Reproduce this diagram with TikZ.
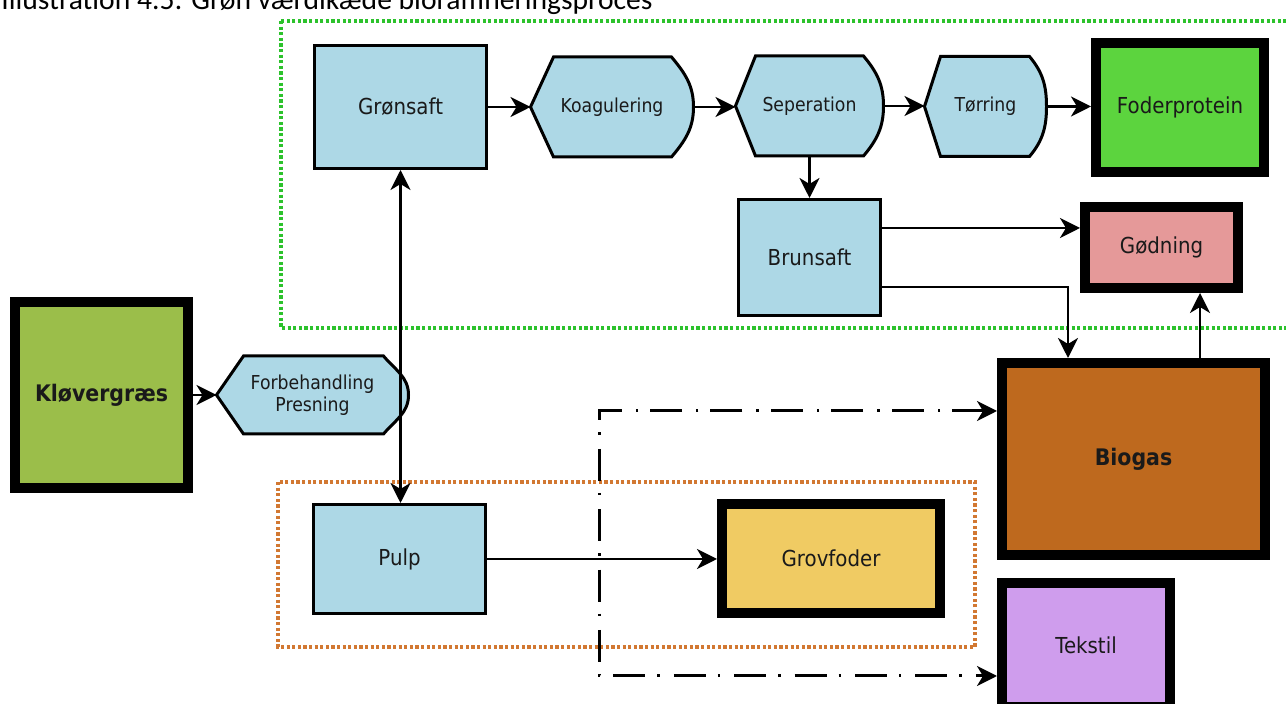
\documentclass[tikz,border=0pt]{standalone}
\usepackage{fontspec}
\setmainfont{DejaVu Sans}[FakeStretch=0.9]
\newfontfamily\captionfont{Carlito}
\usetikzlibrary{arrows.meta,calc,backgrounds}

\definecolor{ink}{HTML}{1A1A1A}
\definecolor{procblue}{HTML}{ADD8E6}
\definecolor{grassgreen}{HTML}{9BBE4A}
\definecolor{protgreen}{HTML}{5CD43E}
\definecolor{gdpink}{HTML}{E59999}
\definecolor{biobrown}{HTML}{BE691E}
\definecolor{grovyellow}{HTML}{F0CB63}
\definecolor{tekpurple}{HTML}{CF9DED}
\definecolor{framegreen}{HTML}{2CC22C}
\definecolor{frameorange}{HTML}{D27832}

% process step: pointed on the left, rounded on the right
\newcommand\displayshape[3]{%
  \draw[procline] (#1.west) -- ($(#1.north west)+(#2,0)$)
    -- ($(#1.north east)+(-#3,0)$) to[out=-50,in=90] (#1.east)
    to[out=-90,in=50] ($(#1.south east)+(-#3,0)$)
    -- ($(#1.south west)+(#2,0)$) -- cycle;}

\begin{document}
\begin{tikzpicture}[x=0.5pt,y=-0.5pt,
  >={Stealth[length=10pt,width=10pt,inset=3pt]},
  every node/.style={text=ink},
  flow/.style={draw=black, line width=1.5pt, fill=procblue, inner sep=0pt,
    outer sep=0.75pt, font=\fontsize{11}{13}\selectfont},
  sink/.style={draw=black, line width=5pt, inner sep=0pt,
    font=\fontsize{11}{13}\selectfont},
  proc/.style={inner sep=0pt, outer sep=0.75pt, align=center,
    font=\fontsize{9.6}{11}\selectfont},
  procline/.style={draw=black, line width=1.5pt, fill=procblue, line join=miter},
  link/.style={line width=1.45pt, ->},
  frame/.style={line width=2.2pt, dash pattern=on 1.6pt off 1.2pt},
  dashdot/.style={line width=1.5pt, dash pattern=on 16pt off 6pt on 1.2pt off 7pt}
]
\useasboundingbox (0,0) rectangle (1286,704);
\clip (0,0) rectangle (1286,704);

\node[anchor=base west, inner sep=0pt, text=black,
  font=\captionfont\fontsize{14.8}{16}\selectfont] (title) at (1,10)
  {Illustration 4.5: Grøn værdikæde bioraffineringsproces};

% nodes
\node[flow, minimum width=86pt, minimum height=61.5pt] (gron) at (400.5,107) {Grønsaft};
\node[proc, minimum width=80pt, minimum height=48.5pt] (koag) at (612,107) {Koagulering};
\node[proc, minimum width=72.5pt, minimum height=48.5pt] (sep) at (809.5,106) {Seperation};
\node[proc, minimum width=59.5pt, minimum height=48.5pt] (tor) at (985.5,106.5) {Tørring};
\node[sink, fill=protgreen, minimum width=84pt, minimum height=64.5pt] (prot) at (1180,107.5) {Foderprotein};
\node[flow, minimum width=71pt, minimum height=58pt] (brun) at (809.5,257.5) {Brunsaft};
\node[sink, fill=gdpink, minimum width=76.5pt, minimum height=40.5pt] (god) at (1161.5,247.5) {Gødning};
\node[sink, fill=grassgreen, minimum width=86.5pt, minimum height=93pt,
  font=\fontsize{11.4}{13}\selectfont\bfseries] (klov) at (101.5,395) {Kløvergræs};
\node[proc, minimum width=94.5pt, minimum height=37.5pt] (forb) at (312.5,395) {Forbehandling\\Presning};
\node[sink, fill=biobrown, minimum width=131.5pt, minimum height=96pt,
  font=\fontsize{11.4}{13}\selectfont\bfseries] (bio) at (1133.5,459) {Biogas};
\node[flow, minimum width=86pt, minimum height=54.5pt] (pulp) at (399.5,559) {Pulp};
\node[sink, fill=grovyellow, minimum width=109pt, minimum height=54.5pt] (grov) at (831,558.5) {Grovfoder};
\node[sink, fill=tekpurple, minimum width=84pt, minimum height=62pt] (tek) at (1086,645) {Tekstil};

% group frames and process outlines
\begin{scope}[on background layer]
  \draw[frame, draw=framegreen] (281,21) rectangle (1300,328);
  \draw[frame, draw=frameorange] (278,482) rectangle (975,647);
  \displayshape{forb}{27}{25}
  \displayshape{koag}{23}{22}
  \displayshape{sep}{20}{20}
  \displayshape{tor}{16}{17}
\end{scope}

% connectors
\draw[link] (klov.east) -- (forb.west);
\draw[link] (gron.east) -- (gron.east -| koag.west);
\draw[link] (koag.east) -- (koag.east -| sep.west);
\draw[link] (sep.east) -- (sep.east -| tor.west);
\draw[link] (tor.east) -- (tor.east -| prot.west);
\draw[link] (sep.south) -- (brun.north);
\draw[link] ([yshift=14.75pt]brun.east) coordinate (b1) -- (b1 -| god.west);
\draw[link] ([yshift=-14.75pt]brun.east) -| ([xshift=-32.75pt]bio.north);
\draw[link] ([xshift=33.25pt]bio.north) -- ([xshift=33.25pt]bio.north |- god.south);
\draw[link, <->] (gron.south) -- (gron.south |- pulp.north);
\draw[link] (pulp.east) -- (pulp.east -| grov.west);
\coordinate (dd1) at (599,411);
\coordinate (dd2) at (599,676);
\draw[dashdot, <->] (dd1 -| bio.west) -- (dd1) -- (dd2) -- (dd2 -| tek.west);
\end{tikzpicture}
\end{document}
